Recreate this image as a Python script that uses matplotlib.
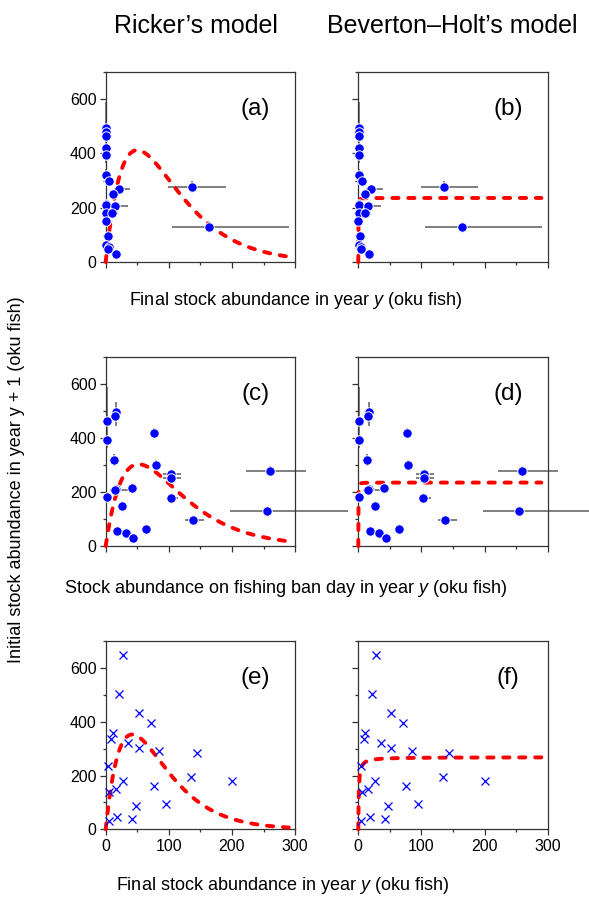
import numpy as np
import matplotlib.pyplot as plt
from matplotlib.ticker import MultipleLocator

plt.rcParams['font.family'] = ['Liberation Sans', 'DejaVu Sans']
plt.rcParams['mathtext.fontset'] = 'custom'
plt.rcParams['mathtext.rm'] = 'Liberation Sans'
plt.rcParams['mathtext.it'] = 'Liberation Sans:italic'

# Initial stock abundance in year y+1 (shared by the top two rows)
recruit = [495, 480, 464, 420, 393, 319, 300, 278, 268, 252, 213, 210, 206,
           181, 179, 150, 130, 96, 64, 54, 49, 29]
recruit_err_lo = [52, 10, 94, 18, 30, 22, 15, 18, 8, 8, 15, 8, 8,
                  5, 5, 5, 8, 5, 5, 4, 4, 3]
recruit_err_hi = [37, 10, 126, 18, 20, 22, 18, 20, 8, 8, 15, 8, 8,
                  5, 5, 5, 8, 5, 5, 4, 4, 3]

# Final stock abundance in year y
final_stock = [0.5, 0.5, 0.8, 1.0, 1.0, 0.8, 5.5, 136, 20.5, 11, 1.0, 1.0, 14.8,
               0.5, 10.6, 0.3, 164, 3, 0.5, 5, 4, 16.4]
final_err_lo = [0.5, 0.5, 0.8, 1, 1, 0.8, 3, 37, 8, 4, 1, 1, 9,
                0.5, 5, 0.3, 59, 2, 0.5, 2, 2, 3]
final_err_hi = [1, 1, 1, 1, 1, 1, 5, 54, 18, 5, 1, 1, 21,
                1, 9.5, 1, 127, 4, 1, 5, 3, 5]

# Stock abundance on fishing ban day in year y
ban_stock = [16.4, 15.3, 1.6, 77, 1.6, 13.2, 79, 260, 103.5, 103.5, 41, 17, 15.3,
             1.6, 103, 26, 255, 138, 64, 18, 32, 44]
ban_err_lo = [3, 3, 1, 2, 1, 2, 2, 38, 12.5, 12.5, 3, 3, 8.6,
              1, 2, 2, 58, 12, 2, 2, 2, 2]
ban_err_hi = [3, 3, 1, 2, 1, 2, 4, 57, 16.5, 16.5, 3, 3, 20.5,
              1, 12, 2, 129, 18, 2, 2, 2, 5]

# Bottom row: final stock in year y vs initial stock in year y+1
final_stock_b = [28, 21, 52.5, 71.3, 10.8, 8.7, 35.6, 52.3, 85.2, 144.3, 4, 27.2,
                 16.1, 5.5, 134.6, 200.5, 76.3, 95.3, 47.7, 18.5, 42.4, 4.8]
recruit_b = [647, 502, 432, 394, 359, 335, 319, 301, 291, 282, 235, 178,
             150, 140, 193, 180, 161, 94, 86, 47, 40, 30]

# Fitted stock-recruitment parameters
ricker_final = (22.4, 0.0200)      # R = a S exp(-b S)
ricker_ban = (15.8, 0.0192)
ricker_final_b = (22.8, 0.0238)
bh_final = (236.0, 0.05)           # R = Rmax S / (K + S)
bh_ban = (235.0, 0.05)
bh_final_b = (268.0, 0.8)

S_MAX = 290
panel_labels = ['(a)', '(b)', '(c)', '(d)', '(e)', '(f)']

BLUE = '#0000ff'
RED = '#ff0000'
GREY = '#7f7f7f'

fig = plt.figure(figsize=(5.89, 8.97), dpi=100)
W, H = 589.0, 897.0
col_x = [105.7, 358.3]
row_y = [(72.0, 262.0), (357.0, 546.0), (641.0, 829.3)]
ax_w = 189.4

s = np.linspace(0, S_MAX, 600)


def ricker(S, p):
    a, b = p
    return a * S * np.exp(-b * S)


def bevholt(S, p):
    rmax, k = p
    return rmax * S / (k + S)


def style_axes(ax, show_x, show_y):
    ax.set_xlim(0, 300)
    ax.set_ylim(0, 700)
    ax.xaxis.set_major_locator(MultipleLocator(100))
    ax.xaxis.set_minor_locator(MultipleLocator(50))
    ax.yaxis.set_major_locator(MultipleLocator(200))
    ax.yaxis.set_minor_locator(MultipleLocator(100))
    ax.tick_params(which='major', direction='out', length=4.2, width=0.9,
                   labelsize=11.5, pad=2.5, color='#333333')
    ax.tick_params(which='minor', direction='out', length=2.5, width=0.9,
                   color='#333333')
    ax.tick_params(labelbottom=show_x, labelleft=show_y)
    for sp in ax.spines.values():
        sp.set_linewidth(0.9)
        sp.set_color('#333333')


def draw_curve(ax, y):
    ax.plot(s, y, color=RED, lw=2.8, dashes=(1.6, 2.5),
            dash_capstyle='round', zorder=3, clip_on=False)


axes = []
for r in range(3):
    for c in range(2):
        top, bot = row_y[r]
        ax = fig.add_axes([col_x[c] / W, 1 - bot / H, ax_w / W, (bot - top) / H])
        style_axes(ax, show_x=(r == 2), show_y=(c == 0))
        axes.append(ax)

# Top two rows: circles with error bars
for r, (xs, xlo, xhi, rk, bh) in enumerate([
        (final_stock, final_err_lo, final_err_hi, ricker_final, bh_final),
        (ban_stock, ban_err_lo, ban_err_hi, ricker_ban, bh_ban)]):
    for c in range(2):
        ax = axes[2 * r + c]
        eb = ax.errorbar(xs, recruit, xerr=[xlo, xhi],
                         yerr=[recruit_err_lo, recruit_err_hi],
                         fmt='none', ecolor=GREY, elinewidth=1.4, capsize=0,
                         zorder=2)
        for coll in eb[2]:
            coll.set_clip_on(False)
        draw_curve(ax, ricker(s, rk) if c == 0 else bevholt(s, bh))
        ax.plot(xs, recruit, 'o', ms=6.8, mfc=BLUE, mec='white', mew=0.7,
                zorder=4, clip_on=False)

# Bottom row: crosses
for c in range(2):
    ax = axes[4 + c]
    ax.plot(final_stock_b, recruit_b, 'x', ms=5.5, mew=0.9, color=BLUE,
            zorder=4, clip_on=False)
    draw_curve(ax, ricker(s, ricker_final_b) if c == 0 else bevholt(s, bh_final_b))

for ax, lab in zip(axes, panel_labels):
    ax.text(0.79, 0.805, lab, transform=ax.transAxes, ha='center', va='center',
            fontsize=17.5)

fig.text(196 / W, 1 - 26 / H, 'Ricker’s model', ha='center', va='center',
         fontsize=18)
fig.text(452 / W, 1 - 26 / H, 'Beverton–Holt’s model', ha='center', va='center',
         fontsize=18)

fig.text(296 / W, 1 - 305 / H, 'Final stock abundance in year $\\it{y}$ (oku fish)',
         ha='center', va='baseline', fontsize=13)
fig.text(286 / W, 1 - 593 / H,
         'Stock abundance on fishing ban day in year $\\it{y}$ (oku fish)',
         ha='center', va='baseline', fontsize=13)
fig.text(283 / W, 1.5 / H, 'Final stock abundance in year $\\it{y}$ (oku fish)',
         ha='center', va='bottom', fontsize=13)
fig.text(17 / W, 1 - 479.5 / H, 'Initial stock abundance in year y + 1 (oku fish)',
         ha='center', va='center', rotation=90, fontsize=13)

fig.savefig('out.png', dpi=100)
